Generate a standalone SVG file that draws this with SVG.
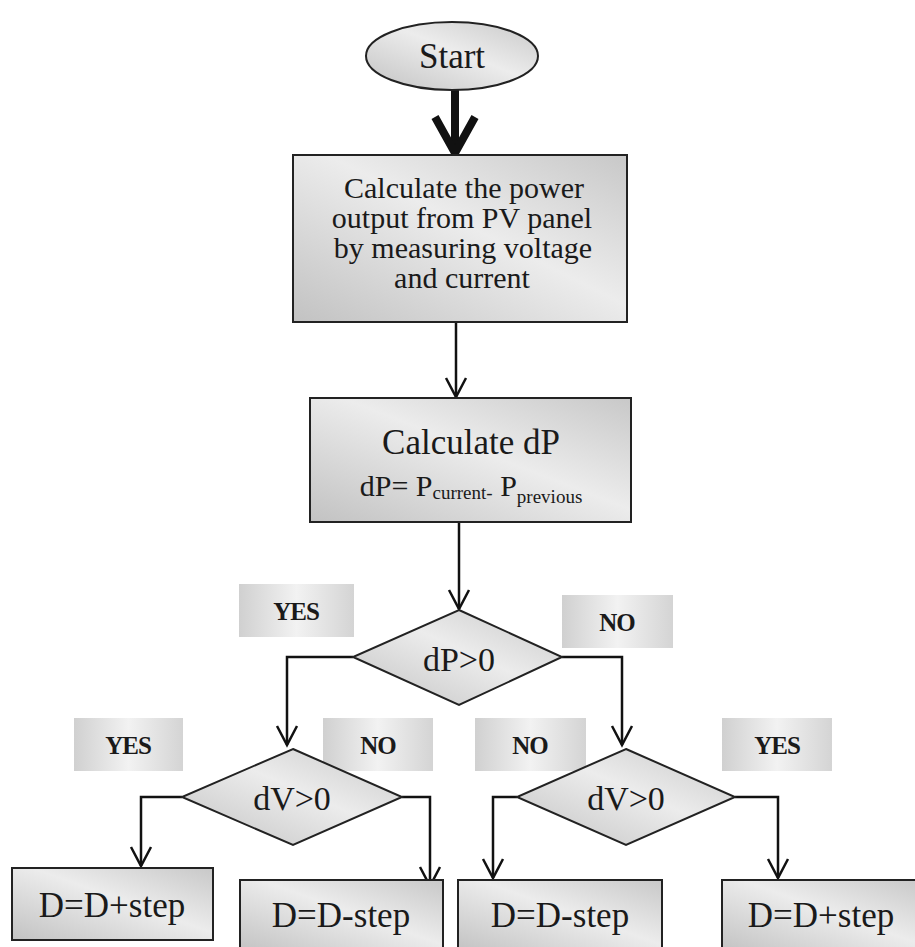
<svg xmlns="http://www.w3.org/2000/svg" width="915" height="947" viewBox="0 0 915 947">
<defs>
<linearGradient id="g" x1="0" y1="1" x2="1" y2="0">
<stop offset="0" stop-color="#c2c2c2"/>
<stop offset="0.55" stop-color="#ececec"/>
<stop offset="1" stop-color="#c8c8c8"/>
</linearGradient>
<linearGradient id="gl" x1="0" y1="0" x2="1" y2="0">
<stop offset="0" stop-color="#d0d0d0"/>
<stop offset="0.5" stop-color="#f2f2f2"/>
<stop offset="1" stop-color="#d4d4d4"/>
</linearGradient>
<marker id="ah" viewBox="0 0 24 24" refX="21" refY="12" markerWidth="24" markerHeight="24" markerUnits="userSpaceOnUse" orient="auto">
<path d="M2,2 L21,12 L2,22" fill="none" stroke="#111" stroke-width="2.5"/>
</marker>
<marker id="ahb" viewBox="0 0 48 48" refX="42" refY="24" markerWidth="48" markerHeight="48" markerUnits="userSpaceOnUse" orient="auto">
<path d="M6,4 L42,24 L6,44" fill="none" stroke="#111" stroke-width="8" stroke-linejoin="miter"/>
</marker>
</defs>
<style>
.n{fill:url(#g);stroke:#222;stroke-width:2}
.lb{fill:url(#gl);stroke:none}
text{font-family:'Liberation Serif','DejaVu Serif',serif;fill:#1a1a1a;text-anchor:middle}
.l{font-weight:bold;font-size:25px;letter-spacing:-1px}
.c{fill:none;stroke:#111;stroke-width:2.5}
</style>
<rect width="915" height="947" fill="#fff"/>
<g id="labels">
<rect class="lb" x="239" y="584" width="115" height="53"/>
<text class="l" x="296" y="620">YES</text>
<rect class="lb" x="562" y="595" width="111" height="53"/>
<text class="l" x="617" y="631">NO</text>
<rect class="lb" x="74" y="718" width="109" height="53"/>
<text class="l" x="128" y="754">YES</text>
<rect class="lb" x="323" y="718" width="110" height="53"/>
<text class="l" x="378" y="754">NO</text>
<rect class="lb" x="475" y="718" width="111" height="53"/>
<text class="l" x="530" y="754">NO</text>
<rect class="lb" x="722" y="718" width="110" height="53"/>
<text class="l" x="777" y="754">YES</text>
</g>
<g id="connectors">
<line x1="455" y1="89" x2="455" y2="153" stroke="#111" stroke-width="8" marker-end="url(#ahb)"/>
<path class="c" d="M456,322 V397" marker-end="url(#ah)"/>
<path class="c" d="M459,522 V609" marker-end="url(#ah)"/>
<path class="c" d="M353,657 H287 V745" marker-end="url(#ah)"/>
<path class="c" d="M562,657 H622 V745" marker-end="url(#ah)"/>
<path class="c" d="M182,797 H141 V866" marker-end="url(#ah)"/>
<path class="c" d="M402,797 H430 V886" marker-end="url(#ah)"/>
<path class="c" d="M517,797 H493 V878" marker-end="url(#ah)"/>
<path class="c" d="M735,797 H778 V878" marker-end="url(#ah)"/>
</g>
<g id="start">
<ellipse class="n" cx="452" cy="56" rx="86" ry="34"/>
<text x="452" y="68" font-size="35">Start</text>
</g>
<g id="calc-power">
<rect class="n" x="293" y="155" width="334" height="167"/>
<text x="464" y="198" font-size="30">Calculate the power</text>
<text x="462" y="228" font-size="30">output from PV panel</text>
<text x="463" y="258" font-size="30">by measuring voltage</text>
<text x="462" y="288" font-size="30">and current</text>
</g>
<g id="calc-dp">
<rect class="n" x="310" y="398" width="321" height="124"/>
<text x="471" y="454" font-size="35">Calculate dP</text>
<text x="471" y="496" font-size="30">dP= P<tspan font-size="19" dy="3">current-</tspan><tspan font-size="30" dy="-3"> P</tspan><tspan font-size="19" dy="7">previous</tspan></text>
</g>
<g id="dp-decision">
<polygon class="n" points="459,610 562,657 459,705 353,657"/>
<text x="459" y="671" font-size="34">dP&gt;0</text>
</g>
<g id="dv-left">
<polygon class="n" points="293,749 402,797 293,845 182,797"/>
<text x="292" y="810" font-size="34">dV&gt;0</text>
</g>
<g id="dv-right">
<polygon class="n" points="626,749 735,797 626,845 517,797"/>
<text x="626" y="810" font-size="34">dV&gt;0</text>
</g>
<g id="inc-left">
<rect class="n" x="12" y="868" width="201" height="72"/>
<text x="112" y="917" font-size="35">D=D+step</text>
</g>
<g id="dec-left">
<rect class="n" x="240" y="880" width="203" height="72"/>
<text x="341" y="927" font-size="35">D=D-step</text>
</g>
<g id="dec-right">
<rect class="n" x="458" y="880" width="204" height="72"/>
<text x="560" y="927" font-size="35">D=D-step</text>
</g>
<g id="inc-right">
<rect class="n" x="722" y="880" width="200" height="72"/>
<text x="821" y="927" font-size="35">D=D+step</text>
</g>
</svg>
